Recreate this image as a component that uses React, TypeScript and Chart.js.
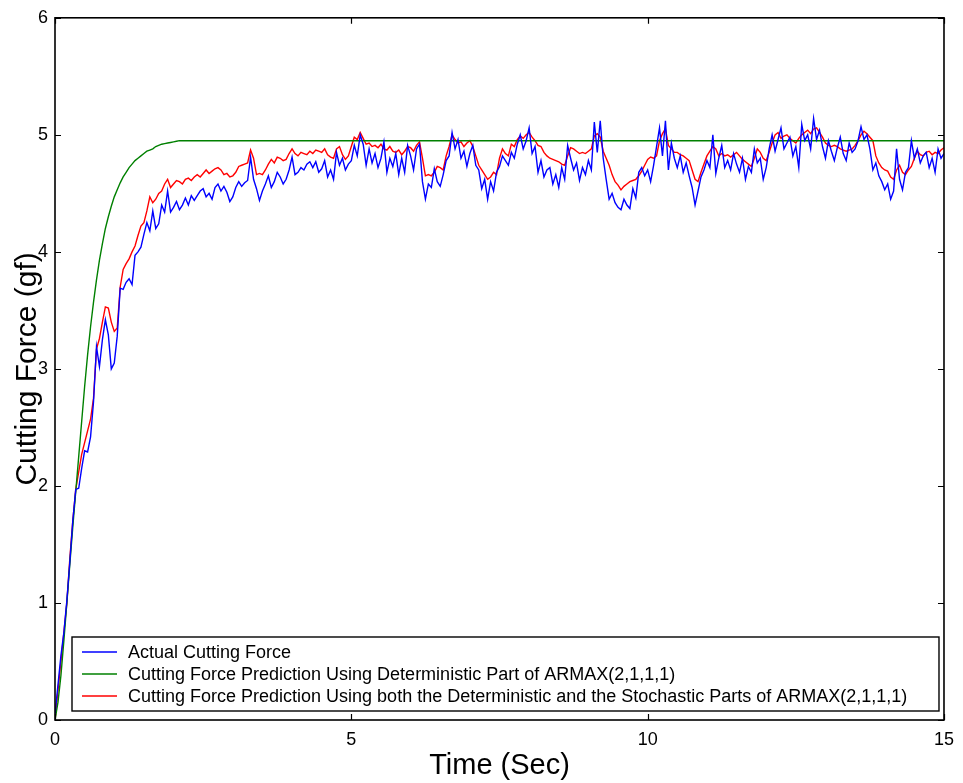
import React, { useEffect, useRef } from "react";
import { Chart, registerables } from "chart.js";

Chart.register(...registerables);

const SAMPLE_STEP = 0.05; // seconds between samples of the measured / predicted series
const X_TICKS = [0, 5, 10, 15];
const Y_TICKS = [0, 1, 2, 3, 4, 5, 6];

const SERIES_LABELS = [
  "Actual Cutting Force",
  "Cutting Force Prediction Using Deterministic Part of ARMAX(2,1,1,1)",
  "Cutting Force Prediction Using both the Deterministic and the Stochastic Parts of ARMAX(2,1,1,1)",
];

// Actual cutting force, one row per 0.5 s (10 samples), last value at t = 15 s
const ACTUAL = [
  0.05, 0.3, 0.55, 0.75, 1.02, 1.35, 1.7, 1.97, 1.98, 2.15,
  2.3, 2.29, 2.42, 2.72, 3.19, 3.02, 3.25, 3.42, 3.29, 3.0,
  3.05, 3.28, 3.69, 3.68, 3.74, 3.77, 3.72, 3.97, 4.0, 4.04,
  4.15, 4.25, 4.18, 4.35, 4.2, 4.24, 4.4, 4.34, 4.52, 4.34,
  4.38, 4.43, 4.36, 4.4, 4.46, 4.4, 4.48, 4.44, 4.48, 4.52,
  4.54, 4.47, 4.5, 4.45, 4.55, 4.58, 4.52, 4.56, 4.51, 4.43,
  4.47, 4.55, 4.6, 4.56, 4.59, 4.61, 4.81, 4.62, 4.54, 4.44,
  4.52, 4.58, 4.65, 4.55, 4.6, 4.68, 4.64, 4.58, 4.62, 4.7,
  4.81, 4.66, 4.68, 4.72, 4.7, 4.75, 4.77, 4.72, 4.77, 4.68,
  4.71, 4.78, 4.64, 4.7, 4.62, 4.85, 4.74, 4.8, 4.7, 4.75,
  4.78, 4.91, 4.82, 5.0, 4.92, 4.74, 4.88, 4.76, 4.84, 4.72,
  4.8, 4.94, 4.68, 4.8, 4.73, 4.84, 4.66, 4.8, 4.68, 4.91,
  4.82, 4.7, 4.88, 4.92, 4.6, 4.45, 4.58, 4.55, 4.71, 4.6,
  4.56, 4.66, 4.78, 4.82, 5.02, 4.88, 4.96, 4.8, 4.86, 4.73,
  4.84, 4.91, 4.74, 4.7, 4.54, 4.62, 4.45, 4.6, 4.52, 4.68,
  4.73, 4.82, 4.78, 4.74, 4.85, 4.8, 4.92, 5.0, 4.88, 4.95,
  5.06, 4.84, 4.9, 4.68, 4.78, 4.64, 4.7, 4.72, 4.58, 4.66,
  4.55, 4.72, 4.62, 4.91, 4.8, 4.7, 4.76, 4.61, 4.72, 4.66,
  4.78, 4.7, 5.11, 4.85, 5.12, 4.8, 4.62, 4.45, 4.5, 4.42,
  4.38, 4.36, 4.45, 4.4, 4.37, 4.54, 4.46, 4.68, 4.72, 4.65,
  4.7, 4.6, 4.74, 4.9, 5.06, 4.82, 5.12, 4.7, 4.93, 4.8,
  4.72, 4.82, 4.68, 4.76, 4.65, 4.55, 4.4, 4.52, 4.64, 4.7,
  4.78, 4.72, 5.0, 4.67, 4.8, 4.91, 4.72, 4.78, 4.7, 4.84,
  4.75, 4.68, 4.8, 4.62, 4.73, 4.68, 4.88, 4.76, 4.8, 4.62,
  4.72, 4.88, 5.0, 4.86, 4.96, 5.06, 4.88, 4.93, 4.98, 4.82,
  4.9, 4.72, 5.09, 4.95, 5.0, 4.88, 5.14, 4.96, 5.04, 4.9,
  4.8, 4.95, 4.86, 4.78, 4.89, 4.98, 4.84, 4.78, 4.93, 4.85,
  4.88, 4.95, 5.07, 4.96, 5.0, 4.88, 4.7, 4.76, 4.65, 4.6,
  4.53, 4.58, 4.45, 4.52, 4.88, 4.62, 4.53, 4.68, 4.72, 4.95,
  4.8, 4.88, 4.76, 4.82, 4.85, 4.72, 4.8, 4.68, 4.88, 4.8,
  4.84,
];

// Prediction using deterministic + stochastic parts, same sampling
const PRED_FULL = [
  0.0, 0.25, 0.5, 0.75, 1.0, 1.38, 1.7, 1.97, 2.12, 2.27,
  2.37, 2.47, 2.57, 2.75, 3.17, 3.26, 3.4, 3.53, 3.52, 3.4,
  3.32, 3.35, 3.7, 3.85, 3.9, 3.94, 4.0, 4.05, 4.14, 4.22,
  4.25, 4.35, 4.47, 4.42, 4.45, 4.5, 4.52, 4.58, 4.62, 4.55,
  4.58, 4.61, 4.6, 4.58, 4.62, 4.63, 4.61, 4.64, 4.66, 4.64,
  4.67, 4.7, 4.67, 4.69, 4.71, 4.72, 4.7, 4.66, 4.67, 4.64,
  4.65, 4.68, 4.73, 4.74, 4.75, 4.76, 4.87, 4.8, 4.66, 4.67,
  4.66, 4.7, 4.75, 4.79, 4.76, 4.81, 4.8, 4.78, 4.79, 4.84,
  4.88, 4.84, 4.82, 4.85, 4.84, 4.83, 4.86, 4.84, 4.87, 4.86,
  4.85, 4.88, 4.83, 4.81, 4.8, 4.88, 4.9, 4.83, 4.79, 4.82,
  4.9, 4.98, 4.96, 5.02, 4.97, 4.92, 4.93, 4.9, 4.91, 4.89,
  4.92, 4.88, 4.87, 4.9, 4.86, 4.85, 4.87, 4.83, 4.86, 4.9,
  4.89, 4.86, 4.91, 4.94, 4.8, 4.65, 4.66, 4.65, 4.68, 4.73,
  4.72, 4.7, 4.82, 4.9, 5.0, 4.96, 4.93, 4.94, 4.9, 4.93,
  4.95, 4.9, 4.82, 4.74, 4.7, 4.66, 4.62, 4.64, 4.68, 4.66,
  4.8, 4.88, 4.84, 4.82, 4.92, 4.9, 4.96, 4.99, 4.97, 5.0,
  5.02, 4.98, 4.95, 4.91, 4.9, 4.85, 4.82, 4.8, 4.79, 4.78,
  4.77, 4.75, 4.74, 4.82, 4.89, 4.88, 4.86, 4.84, 4.85, 4.84,
  4.86, 4.88, 4.99, 5.01, 4.98, 4.86, 4.8, 4.74, 4.66, 4.6,
  4.57, 4.53, 4.56, 4.58, 4.6, 4.61, 4.62, 4.65, 4.69, 4.74,
  4.79, 4.81, 4.8, 4.82, 4.95, 5.01, 5.05, 4.91, 4.88, 4.85,
  4.85, 4.83, 4.82, 4.8, 4.78, 4.7, 4.62, 4.6, 4.68, 4.75,
  4.82, 4.86, 4.9, 4.88, 4.82, 4.84, 4.82, 4.83, 4.81, 4.83,
  4.85, 4.82, 4.79, 4.77, 4.75, 4.73, 4.8, 4.88, 4.85, 4.8,
  4.78, 4.85, 4.93, 5.0, 5.02, 4.97, 4.99, 5.0, 4.97, 4.95,
  4.93, 4.97, 5.0, 5.02, 5.04, 5.01, 5.05, 5.06, 5.02, 4.98,
  4.93, 4.91, 4.9, 4.91, 4.9, 4.88, 4.87, 4.86, 4.87, 4.88,
  4.91, 4.95, 5.0, 5.03, 5.01, 4.98, 4.95, 4.82, 4.76, 4.72,
  4.7, 4.69, 4.64, 4.62, 4.7, 4.74, 4.68, 4.66, 4.7, 4.73,
  4.8, 4.86, 4.83, 4.82, 4.85, 4.86, 4.83, 4.85, 4.84, 4.87,
  4.89,
];

// Deterministic-only prediction (smooth step response)
const DET_TIME = [
  0, 0.05, 0.1, 0.15, 0.2, 0.25, 0.3, 0.35, 0.4, 0.45,
  0.5, 0.55, 0.6, 0.65, 0.7, 0.75, 0.8, 0.85, 0.9, 0.95,
  1.0, 1.05, 1.1, 1.15, 1.2, 1.25, 1.3, 1.35, 1.4, 1.45,
  1.5, 1.55, 1.6, 1.65, 1.7, 1.75, 1.8, 1.85, 1.9, 1.95,
  2.0, 2.05, 2.1, 15,
];
const DET_VALUES = [
  0, 0.15, 0.38, 0.68, 1.0, 1.33, 1.65, 1.95, 2.25, 2.55,
  2.85, 3.12, 3.36, 3.57, 3.76, 3.93, 4.07, 4.2, 4.3, 4.39,
  4.47, 4.53, 4.59, 4.64, 4.68, 4.72, 4.75, 4.78, 4.8, 4.82,
  4.84, 4.86, 4.87, 4.88, 4.9, 4.91, 4.92, 4.925, 4.93, 4.935,
  4.94, 4.945, 4.95, 4.95,
];

const COLORS = ["#0000ff", "#008000", "#ff0000"];
const FONT = "Arial, 'Liberation Sans', Helvetica, sans-serif";

const sampled = (vals: number[]) =>
  vals.map((y, i) => ({ x: Math.round(i * SAMPLE_STEP * 100) / 100, y }));

const frameAndLegend = {
  id: "frameAndLegend",
  afterDraw(chart: any) {
    const { ctx, chartArea: a, scales } = chart;
    const xs = scales.x;
    const ys = scales.y;
    ctx.save();
    // box
    ctx.strokeStyle = "#000";
    ctx.lineWidth = 1.6;
    ctx.strokeRect(a.left, a.top, a.right - a.left, a.bottom - a.top);
    // inward ticks on all sides
    ctx.lineWidth = 1.2;
    const tl = 6;
    X_TICKS.forEach((v) => {
      const px = Math.round(xs.getPixelForValue(v)) + 0.5;
      ctx.beginPath();
      ctx.moveTo(px, a.bottom);
      ctx.lineTo(px, a.bottom - tl);
      ctx.moveTo(px, a.top);
      ctx.lineTo(px, a.top + tl);
      ctx.stroke();
    });
    Y_TICKS.forEach((v) => {
      const py = Math.round(ys.getPixelForValue(v)) + 0.5;
      ctx.beginPath();
      ctx.moveTo(a.left, py);
      ctx.lineTo(a.left + tl, py);
      ctx.moveTo(a.right, py);
      ctx.lineTo(a.right - tl, py);
      ctx.stroke();
    });
    // legend box
    const bx = a.left + 17;
    const bw = a.right - 5 - bx;
    const bh = 74;
    const by = a.bottom - 9 - bh;
    ctx.fillStyle = "#fff";
    ctx.fillRect(bx, by, bw, bh);
    ctx.strokeStyle = "#000";
    ctx.lineWidth = 1.4;
    ctx.strokeRect(bx, by, bw, bh);
    ctx.font = `18px ${FONT}`;
    ctx.textBaseline = "middle";
    SERIES_LABELS.forEach((label, i) => {
      const yy = by + 15 + i * 22;
      ctx.strokeStyle = COLORS[i];
      ctx.lineWidth = 1.4;
      ctx.beginPath();
      ctx.moveTo(bx + 10, yy);
      ctx.lineTo(bx + 45, yy);
      ctx.stroke();
      ctx.fillStyle = "#000";
      ctx.fillText(label, bx + 56, yy + 1);
    });
    ctx.restore();
  },
};

export default function App() {
  const ref = useRef<HTMLCanvasElement | null>(null);

  useEffect(() => {
    if (!ref.current) return;
    const chart = new Chart(ref.current, {
      type: "line",
      data: {
        datasets: [
          {
            label: SERIES_LABELS[0],
            data: sampled(ACTUAL),
            borderColor: COLORS[0],
            borderWidth: 1.4,
            pointRadius: 0,
            tension: 0,
          },
          {
            label: SERIES_LABELS[1],
            data: DET_TIME.map((x, i) => ({ x, y: DET_VALUES[i] })),
            borderColor: COLORS[1],
            borderWidth: 1.4,
            pointRadius: 0,
            tension: 0,
          },
          {
            label: SERIES_LABELS[2],
            data: sampled(PRED_FULL),
            borderColor: COLORS[2],
            borderWidth: 1.4,
            pointRadius: 0,
            tension: 0,
          },
        ],
      },
      options: {
        responsive: false,
        animation: false,
        layout: { padding: { left: 0, right: 18, top: 15, bottom: 0 } },
        plugins: { legend: { display: false }, tooltip: { enabled: false } },
        scales: {
          x: {
            type: "linear",
            min: 0,
            max: 15,
            afterBuildTicks: (s: any) => {
              s.ticks = X_TICKS.map((v) => ({ value: v }));
            },
            afterFit: (s: any) => {
              s.height = 63;
            },
            grid: { display: false, drawTicks: false },
            border: { display: false },
            ticks: {
              color: "#000",
              font: { family: FONT, size: 18 },
              padding: 9,
              maxRotation: 0,
            },
            title: {
              display: true,
              text: "Time (Sec)",
              color: "#000",
              font: { family: FONT, size: 29 },
              padding: { top: 0, bottom: 0 },
            },
          },
          y: {
            type: "linear",
            min: 0,
            max: 6,
            afterBuildTicks: (s: any) => {
              s.ticks = Y_TICKS.map((v) => ({ value: v }));
            },
            afterFit: (s: any) => {
              s.width = 55;
            },
            grid: { display: false, drawTicks: false },
            border: { display: false },
            ticks: {
              color: "#000",
              font: { family: FONT, size: 18 },
              padding: 7,
            },
            title: {
              display: true,
              text: "Cutting Force (gf)",
              color: "#000",
              font: { family: FONT, size: 30 },
              padding: { top: 10, bottom: 0 },
            },
          },
        },
      },
      plugins: [frameAndLegend],
    });
    return () => chart.destroy();
  }, []);

  return (
    <div style={{ position: "absolute", left: 0, top: 0, width: 963, height: 783, background: "#fff" }}>
      <canvas ref={ref} width={963} height={783} style={{ display: "block" }} />
    </div>
  );
}
